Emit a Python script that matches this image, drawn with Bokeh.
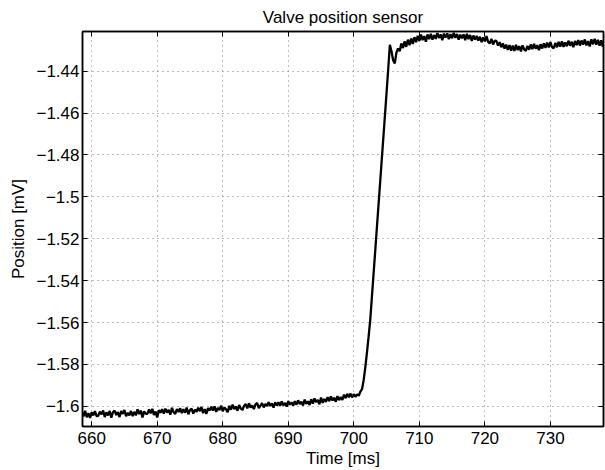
from bokeh.plotting import figure
from bokeh.models import LinearAxis, FixedTicker, Range1d, CustomJSTickFormatter
from bokeh.embed import file_html
from bokeh.resources import INLINE

# ---- data ----
title_text = "Valve position sensor"
x_label = "Time [ms]"
y_label = "Position [mV]"

t_start_ms = 658.5
t_step_ms = 0.25

position_mv = [
    # 658.5 - 700.75 (slow drift)
    -1.6026, -1.6048, -1.6021, -1.6052, -1.6032, -1.6055, -1.6028, -1.6043, -1.6023, -1.6046,
    -1.6045, -1.6025, -1.6038, -1.6020, -1.6051, -1.6028, -1.6043, -1.6022, -1.6054, -1.6027,
    -1.6020, -1.6041, -1.6027, -1.6051, -1.6022, -1.6036, -1.6017, -1.6047, -1.6031, -1.6043,
    -1.6022, -1.6046, -1.6026, -1.6043, -1.6014, -1.6037, -1.6020, -1.6053, -1.6024, -1.6035,
    -1.6036, -1.6014, -1.6033, -1.6012, -1.6041, -1.6025, -1.6053, -1.6018, -1.6030, -1.6013,
    -1.6034, -1.6011, -1.6030, -1.6016, -1.6040, -1.6007, -1.6028, -1.6036, -1.6013, -1.6027,
    -1.6009, -1.6032, -1.6014, -1.6030, -1.6006, -1.6038, -1.6018, -1.6011, -1.6034, -1.6016,
    -1.6026, -1.6006, -1.6023, -1.6003, -1.6032, -1.6013, -1.6036, -1.6008, -1.6020, -1.6001,
    -1.6020, -1.6000, -1.6026, -1.6007, -1.6018, -1.5997, -1.6023, -1.6005, -1.6014, -1.6028,
    -1.5997, -1.6016, -1.5992, -1.6013, -1.6000, -1.6021, -1.5994, -1.6010, -1.6017, -1.5998,
    -1.5989, -1.6009, -1.5985, -1.6006, -1.5996, -1.6013, -1.5990, -1.5984, -1.6008, -1.5997,
    -1.5984, -1.6005, -1.5988, -1.5999, -1.5980, -1.5998, -1.5986, -1.6006, -1.5981, -1.5996,
    -1.5980, -1.5997, -1.5976, -1.5995, -1.5984, -1.6001, -1.5975, -1.5992, -1.5981, -1.5996,
    -1.5975, -1.5992, -1.5971, -1.5989, -1.5978, -1.5996, -1.5968, -1.5988, -1.5976, -1.5993,
    -1.5966, -1.5987, -1.5962, -1.5980, -1.5969, -1.5990, -1.5958, -1.5983, -1.5965, -1.5979,
    -1.5956, -1.5975, -1.5952, -1.5972, -1.5959, -1.5978, -1.5951, -1.5970, -1.5955, -1.5969,
    -1.5944, -1.5961, -1.5940, -1.5956, -1.5939, -1.5957, -1.5942, -1.5954, -1.5943, -1.5949,
    # 701.0 - 705.5 (valve opening)
    -1.5930,
    -1.5918, -1.5875, -1.5815, -1.5745, -1.5670,
    -1.5590, -1.5482, -1.5374, -1.5265, -1.5156, -1.5047, -1.4938, -1.4829, -1.4720,
    -1.4611, -1.4502, -1.4390, -1.4275,
    # 705.75 - 706.5 (overshoot)
    -1.4305, -1.4348, -1.4363, -1.4312,
    # 706.75 - 738.25 (plateau)
    -1.4292, -1.4305, -1.4268, -1.4290, -1.4258, -1.4284, -1.4250, -1.4276, -1.4244, -1.4270,
    -1.4238, -1.4262, -1.4232, -1.4256, -1.4226, -1.4252, -1.4233, -1.4260, -1.4225, -1.4247,
    -1.4222, -1.4250, -1.4228, -1.4246, -1.4219, -1.4242, -1.4225, -1.4253, -1.4221, -1.4240,
    -1.4220, -1.4248, -1.4224, -1.4243, -1.4217, -1.4241, -1.4223, -1.4250, -1.4226, -1.4244,
    -1.4225, -1.4252, -1.4222, -1.4247, -1.4228, -1.4256, -1.4230, -1.4250, -1.4232, -1.4254,
    -1.4236, -1.4262, -1.4239, -1.4258, -1.4233, -1.4261, -1.4268, -1.4246, -1.4273, -1.4255,
    -1.4256, -1.4278, -1.4262, -1.4286, -1.4268, -1.4293, -1.4274, -1.4299, -1.4276, -1.4302,
    -1.4278, -1.4304, -1.4275, -1.4300, -1.4281, -1.4306, -1.4277, -1.4297, -1.4303, -1.4280,
    -1.4298, -1.4273, -1.4295, -1.4270, -1.4293, -1.4276, -1.4300, -1.4272, -1.4292, -1.4268,
    -1.4289, -1.4264, -1.4287, -1.4262, -1.4285, -1.4291, -1.4266, -1.4286, -1.4260, -1.4283,
    -1.4258, -1.4284, -1.4263, -1.4281, -1.4255, -1.4279, -1.4260, -1.4286, -1.4256, -1.4276,
    -1.4252, -1.4278, -1.4254, -1.4274, -1.4249, -1.4277, -1.4257, -1.4282, -1.4248, -1.4272,
    -1.4246, -1.4274, -1.4251, -1.4279, -1.4253, -1.4284, -1.4250,
]

time_ms = [t_start_ms + t_step_ms * i for i in range(len(position_mv))]

x_ticks = [660, 670, 680, 690, 700, 710, 720, 730]
y_ticks = [-1.60, -1.58, -1.56, -1.54, -1.52, -1.50, -1.48, -1.46, -1.44]
y_tick_labels = ["\u22121.6", "\u22121.58", "\u22121.56", "\u22121.54", "\u22121.52",
                 "\u22121.5", "\u22121.48", "\u22121.46", "\u22121.44"]

x_range = (658.6, 738.1)
y_range = (-1.6096, -1.4211)

# ---- figure ----
FONT = "Liberation Sans"
FS = "17px"

p = figure(width=605, height=470, output_backend="svg", toolbar_location=None,
           x_range=Range1d(*x_range), y_range=Range1d(*y_range),
           x_axis_location=None, y_axis_location=None,
           min_border_left=82, min_border_right=2, min_border_top=31, min_border_bottom=44)

p.title.text = title_text
p.title.align = "center"
p.title.text_font = FONT
p.title.text_font_size = FS
p.title.text_font_style = "normal"
p.title.text_color = "black"
p.title.offset = 0
p.title.standoff = 9

p.background_fill_color = "white"
p.border_fill_color = "white"
p.outline_line_color = "black"
p.outline_line_width = 1.5


def make_axis(ticks, show_labels, label=None):
    ax = LinearAxis(ticker=FixedTicker(ticks=ticks))
    ax.axis_line_color = "black"
    ax.axis_line_width = 1.5
    ax.major_tick_in = 5
    ax.major_tick_out = 0
    ax.major_tick_line_color = "black"
    ax.major_tick_line_width = 1
    ax.minor_tick_line_color = None
    ax.major_label_text_font = FONT
    ax.major_label_text_font_size = FS
    ax.major_label_text_color = "black"
    ax.major_label_standoff = 5
    if not show_labels:
        ax.major_label_text_alpha = 0
        ax.major_label_text_font_size = "0px"
        ax.major_label_standoff = 0
    if label:
        ax.axis_label = label
        ax.axis_label_text_font = FONT
        ax.axis_label_text_font_size = FS
        ax.axis_label_text_font_style = "normal"
        ax.axis_label_text_color = "black"
        ax.axis_label_standoff = 2
    return ax


xb = make_axis(x_ticks, True, x_label)
yl = make_axis(y_ticks, True, y_label)
yl.formatter = CustomJSTickFormatter(
    args=dict(tick_values=y_ticks, tick_texts=y_tick_labels),
    code="""
    for (let i = 0; i < tick_values.length; i++) {
        if (Math.abs(tick_values[i] - tick) < 1e-9) { return tick_texts[i]; }
    }
    return '';
    """)
yl.major_label_standoff = 3
yl.axis_label_standoff = 5
xt = make_axis(x_ticks, False)
yr = make_axis(y_ticks, False)

p.add_layout(xb, "below")
p.add_layout(yl, "left")
p.add_layout(xt, "above")
p.add_layout(yr, "right")

p.xgrid.ticker = FixedTicker(ticks=x_ticks)
p.ygrid.ticker = FixedTicker(ticks=y_ticks)
for g in (p.xgrid, p.ygrid):
    g.grid_line_color = "#7a7a7a"
    g.grid_line_width = 1
    g.grid_line_dash = "1 4"
    g.minor_grid_line_color = None

p.line(time_ms, position_mv, line_color="black", line_width=2.3)

open("out.html", "w").write(file_html(p, INLINE))
